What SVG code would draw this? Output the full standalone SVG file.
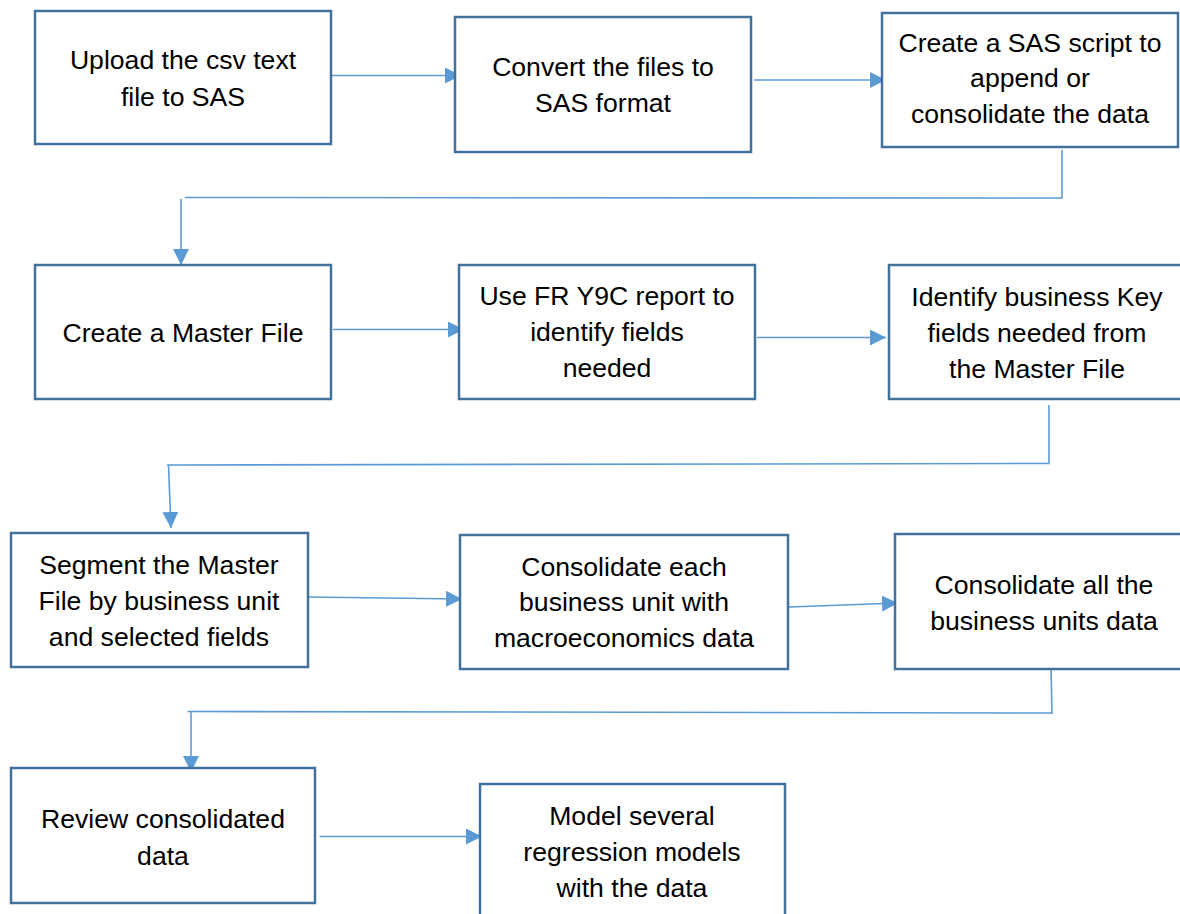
<svg xmlns="http://www.w3.org/2000/svg" width="1180" height="914" viewBox="0 0 1180 914">
  <style>
    .box { fill: #ffffff; stroke: #41719c; stroke-width: 2.5; }
    .lbl { font-family: "Liberation Sans", Arial, sans-serif; font-size: 26.6px; fill: #000000; text-anchor: middle; }
    .conn { fill: none; stroke: #5b9bd5; stroke-width: 1.6; }
    .arrow { marker-end: url(#head); }
  </style>
  <defs>
    <marker id="head" markerUnits="userSpaceOnUse" viewBox="0 0 16 16" refX="16" refY="8" markerWidth="16" markerHeight="16" orient="auto">
      <path d="M0,0 L16,8 L0,16 Z" fill="#5b9bd5"/>
    </marker>
  </defs>
  <rect width="1180" height="914" fill="#ffffff"/>

  <!-- connectors -->
  <g id="connectors">
    <line class="conn arrow" x1="331" y1="75.5" x2="461" y2="75.5"/>
    <line class="conn arrow" x1="754" y1="80" x2="886" y2="80"/>
    <polyline class="conn" points="1062,150 1062,198 185,197.5"/>
    <line class="conn arrow" x1="181" y1="199" x2="181" y2="265"/>
    <line class="conn arrow" x1="333" y1="329.5" x2="464" y2="329.5"/>
    <line class="conn arrow" x1="757" y1="337.5" x2="886" y2="337.5"/>
    <polyline class="conn" points="1049,405 1049,463.5 167,465"/>
    <line class="conn arrow" x1="168.5" y1="465" x2="171" y2="528"/>
    <line class="conn arrow" x1="309" y1="597" x2="462" y2="599"/>
    <line class="conn arrow" x1="789" y1="607" x2="898" y2="603"/>
    <polyline class="conn" points="1051,667 1052,713 187.5,711.5"/>
    <line class="conn arrow" x1="191" y1="711.5" x2="191" y2="772"/>
    <line class="conn arrow" x1="319.5" y1="836.5" x2="482" y2="836.5"/>
  </g>

  <g id="upload">
    <rect class="box" x="35" y="11" width="296" height="133"/>
    <text class="lbl" x="183" y="69">Upload the csv text</text>
    <text class="lbl" x="183" y="106">file to SAS</text>
  </g>
  <g id="convert">
    <rect class="box" x="455" y="17" width="296" height="135"/>
    <text class="lbl" x="603" y="76">Convert the files to</text>
    <text class="lbl" x="603" y="112">SAS format</text>
  </g>
  <g id="script">
    <rect class="box" x="882" y="13" width="296" height="134"/>
    <text class="lbl" x="1030" y="52">Create a SAS script to</text>
    <text class="lbl" x="1030" y="87">append or</text>
    <text class="lbl" x="1030" y="123">consolidate the data</text>
  </g>
  <g id="master">
    <rect class="box" x="35" y="265" width="296" height="134"/>
    <text class="lbl" x="183" y="342">Create a Master File</text>
  </g>
  <g id="fry9c">
    <rect class="box" x="459" y="265" width="296" height="134"/>
    <text class="lbl" x="607" y="305">Use FR Y9C report to</text>
    <text class="lbl" x="607" y="341">identify fields</text>
    <text class="lbl" x="607" y="377">needed</text>
  </g>
  <g id="keyfields">
    <rect class="box" x="889" y="265" width="296" height="134"/>
    <text class="lbl" x="1037" y="306">Identify business Key</text>
    <text class="lbl" x="1037" y="342">fields needed from</text>
    <text class="lbl" x="1037" y="378">the Master File</text>
  </g>
  <g id="segment">
    <rect class="box" x="11" y="533" width="297" height="134"/>
    <text class="lbl" x="159" y="574">Segment the Master</text>
    <text class="lbl" x="159" y="610">File by business unit</text>
    <text class="lbl" x="159" y="646">and selected fields</text>
  </g>
  <g id="macro">
    <rect class="box" x="460" y="535" width="328" height="134"/>
    <text class="lbl" x="624" y="576">Consolidate each</text>
    <text class="lbl" x="624" y="611">business unit with</text>
    <text class="lbl" x="624" y="647">macroeconomics data</text>
  </g>
  <g id="allunits">
    <rect class="box" x="895" y="534" width="298" height="135"/>
    <text class="lbl" x="1044" y="594">Consolidate all the</text>
    <text class="lbl" x="1044" y="630">business units data</text>
  </g>
  <g id="review">
    <rect class="box" x="11" y="768" width="304" height="135"/>
    <text class="lbl" x="163" y="828">Review consolidated</text>
    <text class="lbl" x="163" y="865">data</text>
  </g>
  <g id="models">
    <rect class="box" x="480" y="784" width="305" height="140"/>
    <text class="lbl" x="632" y="825">Model several</text>
    <text class="lbl" x="632" y="861">regression models</text>
    <text class="lbl" x="632" y="897">with the data</text>
  </g>
</svg>
